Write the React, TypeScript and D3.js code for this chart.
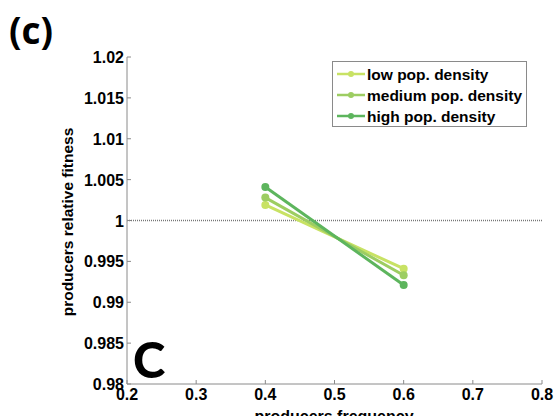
import React from "react";
import * as d3 from "d3";

const xValues = [0.4, 0.6];
const seriesNames = ["low pop. density", "medium pop. density", "high pop. density"];
const lowValues = [1.0019, 0.9941];
const mediumValues = [1.0028, 0.9933];
const highValues = [1.0041, 0.9921];
const seriesColors = ["#c8e264", "#9dcd62", "#5db55d"];
const xTicks = [0.2, 0.3, 0.4, 0.5, 0.6, 0.7, 0.8];
const yTicks = [0.98, 0.985, 0.99, 0.995, 1, 1.005, 1.01, 1.015, 1.02];

export default function App() {
  const W = 559, H = 416;
  const x = d3.scaleLinear().domain([0.2, 0.8]).range([127, 542]);
  const y = d3.scaleLinear().domain([0.98, 1.02]).range([384, 57]);
  const series = [lowValues, mediumValues, highValues];
  const line = d3.line<number>().x((_, i) => x(xValues[i])).y((d) => y(d));
  const axisColor = "#8a8a8a";
  const font = "'Liberation Sans', Arial, sans-serif";
  const calibri = "Lato, 'Open Sans', sans-serif";
  return (
    <svg width={W} height={H} style={{ position: "absolute", left: 0, top: 0 }}>
      <rect width={W} height={H} fill="#fff" />
      <text x={9} y={44} fontFamily="'Open Sans', sans-serif" fontWeight="bold" fontSize={37}>(c)</text>
      {/* reference line */}
      <line x1={x(0.2)} x2={x(0.8)} y1={y(1)} y2={y(1)} stroke="#777" strokeWidth={1.5} strokeDasharray="1,1" />
      {/* axes */}
      <line x1={x(0.2)} x2={x(0.2)} y1={y(0.98)} y2={y(1.02)} stroke={axisColor} strokeWidth={1} />
      <line x1={x(0.2)} x2={x(0.8)} y1={y(0.98)} y2={y(0.98)} stroke={axisColor} strokeWidth={1} />
      {yTicks.map((t) => (
        <g key={"y" + t}>
          <line x1={x(0.2)} x2={x(0.2) + 4} y1={y(t)} y2={y(t)} stroke={axisColor} />
          <text x={x(0.2) - 3} y={y(t) + 6} textAnchor="end" fontFamily={font} fontWeight="bold" fontSize={16}>{String(t)}</text>
        </g>
      ))}
      {xTicks.map((t) => (
        <g key={"x" + t}>
          <line x1={x(t)} x2={x(t)} y1={y(0.98)} y2={y(0.98) - 4} stroke={axisColor} />
          <text x={x(t)} y={y(0.98) + 16} textAnchor="middle" fontFamily={font} fontWeight="bold" fontSize={16}>{String(t)}</text>
        </g>
      ))}
      <text x={334} y={422} textAnchor="middle" fontFamily={font} fontWeight="bold" fontSize={16}>producers frequency</text>
      <text transform={`translate(73,222) rotate(-90)`} textAnchor="middle" fontFamily={font} fontWeight="bold" fontSize={15.5}>producers relative fitness</text>
      {/* series */}
      {series.map((vals, si) => (
        <g key={"s" + si}>
          <path d={line(vals) || ""} fill="none" stroke={seriesColors[si]} strokeWidth={3} />
          {vals.map((v, i) => (
            <circle key={i} cx={x(xValues[i])} cy={y(v)} r={4} fill={seriesColors[si]} />
          ))}
        </g>
      ))}
      <text x={133} y={378} fontFamily={calibri} fontWeight={900} fontSize={49}>C</text>
      {/* legend */}
      <rect x={332.5} y={61.5} width={194} height={65} fill="#fff" stroke="#8a8a8a" strokeWidth={1} />
      {seriesNames.map((n, i) => (
        <g key={"l" + i}>
          <line x1={337} x2={365} y1={74 + i * 21} y2={74 + i * 21} stroke={seriesColors[i]} strokeWidth={2.5} />
          <circle cx={351} cy={74 + i * 21} r={3} fill={seriesColors[i]} />
          <text x={367} y={80 + i * 21} fontFamily={font} fontWeight="bold" fontSize={15.5}>{n}</text>
        </g>
      ))}
    </svg>
  );
}
